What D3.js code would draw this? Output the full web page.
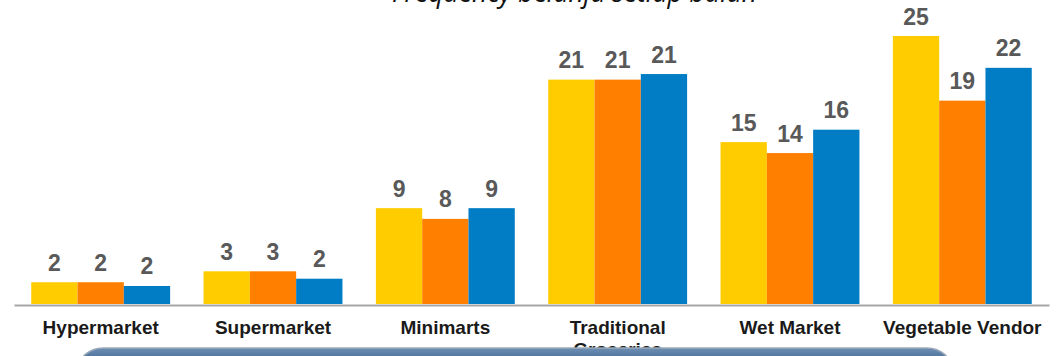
<!DOCTYPE html>
<html>
<head>
<meta charset="utf-8">
<script src="https://cdn.jsdelivr.net/npm/d3@7"></script>
<style>
  html, body { margin: 0; padding: 0; background: #ffffff; }
  svg { display: block; }
</style>
</head>
<body>
<svg id="chart" width="1056" height="356"></svg>
<script>
// Shopping frequency per month, by outlet type (three survey groups)
const categories = ["Hypermarket", "Supermarket", "Minimarts", "Traditional Groceries", "Wet Market", "Vegetable Vendor"];
const tickLabels = [["Hypermarket"], ["Supermarket"], ["Minimarts"], ["Traditional", "Groceries"], ["Wet Market"], ["Vegetable Vendor"]];
const seriesNames = ["group1", "group2", "group3"];
const group1 = [2.03, 3.05, 8.94, 20.93, 15.1, 25.0];
const group2 = [2.03, 3.05, 7.94, 20.93, 14.08, 18.97];
const group3 = [1.68, 2.36, 8.94, 21.45, 16.26, 22.03];
const seriesColors = ["#FFCC00", "#FF8000", "#007DC5"];
const title = "Frequency belanja setiap bulan";

const seriesValues = [group1, group2, group3];
const rows = categories.map((c, i) => ({
  category: c,
  values: seriesNames.map((s, k) => ({ series: s, value: seriesValues[k][i], color: seriesColors[k] }))
}));

const svg = d3.select("#chart");
const baseY = 304;

const x0 = d3.scaleBand()
  .domain(categories)
  .range([14, 1049])
  .paddingInner(0.194)
  .paddingOuter(0.1);

const x1 = d3.scaleBand()
  .domain(seriesNames)
  .range([0, x0.bandwidth()])
  .padding(0);

const y = d3.scaleLinear()
  .domain([0, 25])
  .range([baseY, 36]);

// Bars
const groups = svg.append("g")
  .selectAll("g")
  .data(rows)
  .join("g")
  .attr("transform", d => `translate(${x0(d.category)},0)`);

groups.selectAll("rect")
  .data(d => d.values)
  .join("rect")
  .attr("x", d => x1(d.series))
  .attr("y", d => y(d.value))
  .attr("width", x1.bandwidth())
  .attr("height", d => baseY - y(d.value))
  .attr("fill", d => d.color);

// Value labels
groups.selectAll("text")
  .data(d => d.values)
  .join("text")
  .attr("x", d => x1(d.series) + x1.bandwidth() / 2)
  .attr("y", d => y(d.value) - 11.5)
  .attr("text-anchor", "middle")
  .attr("font-family", "'Liberation Sans', Arial, sans-serif")
  .attr("font-weight", "bold")
  .attr("font-size", 23)
  .attr("fill", "#595959")
  .text(d => String(Math.round(d.value)));

// Category axis
const axis = svg.append("g")
  .attr("transform", `translate(0,${baseY + 1})`)
  .call(d3.axisBottom(x0).tickSizeInner(0).tickSizeOuter(0).tickPadding(15.5));

axis.select(".domain")
  .attr("stroke", "#a6a6a6")
  .attr("stroke-width", 2);

axis.selectAll(".tick text")
  .attr("font-family", "'Liberation Sans', Arial, sans-serif")
  .attr("font-weight", "bold")
  .attr("font-size", 19)
  .attr("fill", "#1a1a1a")
  .each(function (d, i) {
    const t = d3.select(this);
    const lines = tickLabels[categories.indexOf(d)];
    t.text(null);
    lines.forEach((line, j) => {
      t.append("tspan")
        .attr("x", 0)
        .attr("dy", j === 0 ? "0.71em" : "1.16em")
        .text(line);
    });
  });

// Footer banner
const defs = svg.append("defs");
const grad = defs.append("linearGradient")
  .attr("id", "bannerFill")
  .attr("x1", 0).attr("y1", 0).attr("x2", 0).attr("y2", 1);
grad.append("stop").attr("offset", "0%").attr("stop-color", "#6f8fb3");
grad.append("stop").attr("offset", "35%").attr("stop-color", "#3f6794");
grad.append("stop").attr("offset", "100%").attr("stop-color", "#2d5584");

svg.append("rect")
  .attr("x", 79)
  .attr("y", 348)
  .attr("width", 872)
  .attr("height", 40)
  .attr("rx", 24)
  .attr("fill", "url(#bannerFill)")
  .attr("stroke", "#9aa9b8")
  .attr("stroke-width", 1.5);

// Title (clipped at the top edge)
svg.append("text")
  .attr("x", 574.5)
  .attr("y", 2)
  .attr("text-anchor", "middle")
  .attr("font-family", "'Open Sans', sans-serif")
  .attr("font-style", "italic")
  .attr("font-size", 26.5)
  .attr("fill", "#111111")
  .text(title);
</script>
</body>
</html>
